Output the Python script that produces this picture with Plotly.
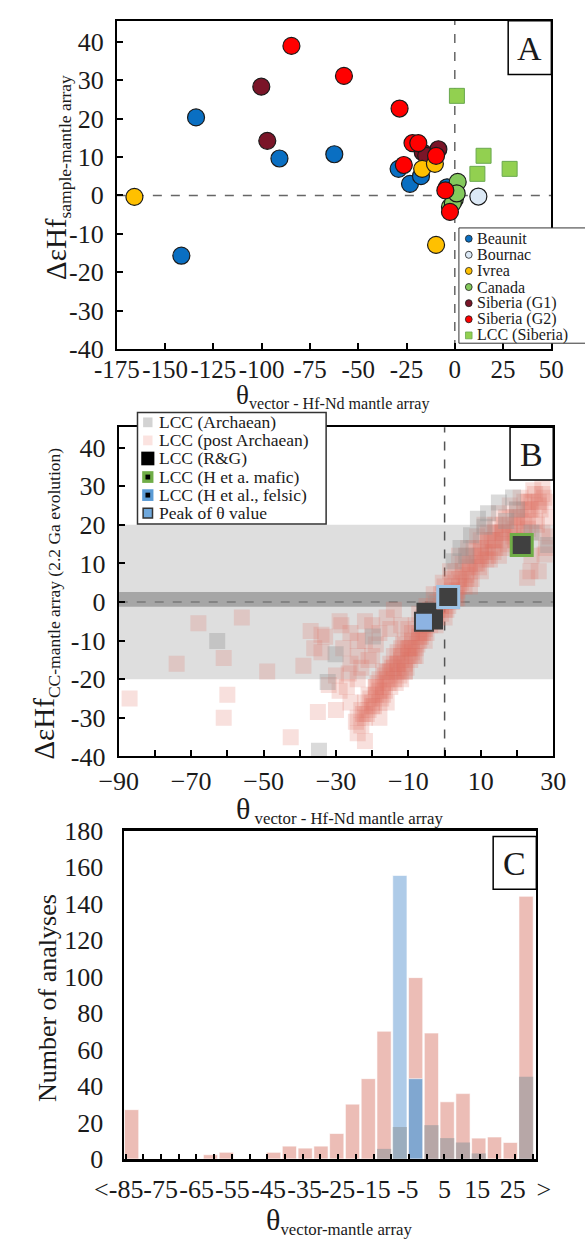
import plotly.graph_objects as go

W, H = 585, 1254
FONT = "Liberation Serif"
TXT = "#1a1a1a"


def px(x):
    return x / W


def py(y):
    return 1 - y / H


# ---------------- Panel A data ----------------
beaunit_x = [-134.0, -141.6, -90.8, -62.4, -29.1, -23.2, -17.5, -4.0]
beaunit_y = [20.3, -15.7, 9.6, 10.7, 6.9, 3.0, 5.0, 2.1]
bournac_x = [12.2]
bournac_y = [-0.3]
ivrea_x = [-165.9, -9.7, -16.9, -10.3]
ivrea_y = [-0.4, -12.9, 6.9, 8.2]
sibg1_x = [-100.2, -97.1, -16.6, -13.0, -8.5, -14.8]
sibg1_y = [28.3, 14.2, 11.2, 9.0, 12.0, 10.3]
canada_x = [1.5, 0.0, -2.5, -1.0, 1.0]
canada_y = [3.5, -1.0, -3.0, -2.0, 0.5]
sibg2_x = [-84.6, -57.4, -28.6, -21.9, -18.9, -26.4, -9.7, -4.9, -2.5]
sibg2_y = [38.9, 31.1, 22.6, 13.6, 13.6, 7.9, 10.3, 1.3, -4.3]
lccsib_x = [1.1, 14.9, 11.7, 28.4]
lccsib_y = [25.9, 10.3, 5.6, 6.9]

A_xticks = [-175, -150, -125, -100, -75, -50, -25, 0, 25, 50]
A_yticks = [-40, -30, -20, -10, 0, 10, 20, 30, 40]

# ---------------- Panel B data ----------------
post_x = [
    # main band
    -23, -24, -22, -23, -21, -22, -20, -18, -21, -19, -17, -19, -17, -15,
    -18, -16, -14, -12, -17, -15, -13, -11, -15, -13, -11, -14, -12, -10, -8,
    -12, -10, -8, -11, -9, -7, -9, -7, -5, -8, -6, -4, -6, -4, -2, -4, -2, 0,
    -2, 0, 2, -1, 1, 3, 0, 2, 4, 2, 4, 6, 3, 5, 7, 5, 7, 9, 6, 8, 10, 12,
    8, 10, 12, 14, 10, 12, 14, 16, 12, 14, 16, 18, 14, 16, 18, 20, 22,
    17, 19, 21, 23, 20, 22, 24, 22, 24, 26, 25, 27, 27,
    # band, second pass
    -24.5, -21.5, -20.5, -19.5, -16.5, -18.5, -13.5, -16.5, -12.5, -14.5,
    -10.5, -9.5, -13, -9, -11.5, -7.5, -6.5, -10, -5.5, -7, -3, -5, -1, -3,
    1, -0.5, 3.5, 1.5, 5.5, 4, 7.5, 6.5, 9.5, 9, 11.5, 11, 13.5, 15, 16.5,
    18, 19.5, 21, 23, 24.5, 26.5, 25.5, 28.5, 29,
    # band, third pass
    -22.5, -20, -18, -17.5, -15.5, -14, -12, -11, -10, -8.5, -7, -5.5, -4,
    -2.5, -1, 0.5, 2, 3, 4.5, 6, 7, 8.5, 10, 11, 12.5, 13.5, 15, 16, 17.5,
    19, 20.5, 22, 23.5, 25, 26, 27.5, -19, -16, -13, -9.5, -6, -3.5, 0, 3.5,
    6.5, 10, 13, 16.5, 20, 23,
    # diffuse left of band
    -28, -26, -24, -22, -20, -18, -16, -14, -20, -24, -27, -30, -26, -22,
    -24, -18, -16, -30, -33, -36, -29, -19, -15, -12, -23, -21,
    # right of band
    24, 26, 28, 22, 27, 29, 23.7, 27.6, 22.8,
    # isolated outliers
    -87, -74, -68, -56, -61, -60, -61, -49, -42.5, -37, -39, -34, -35, -34,
    -32, -28.5, -29, -26.5, -26, -24, -22,
]
post_y = [
    -32, -30, -30, -28, -28, -26, -26, -26, -24, -24, -24, -22, -22, -22,
    -20, -20, -20, -20, -18, -18, -18, -18, -16, -16, -16, -14, -14, -14, -14,
    -12, -12, -12, -10, -10, -10, -8, -8, -8, -6, -6, -6, -4, -4, -4, -2, -2, -2,
    0, 0, 0, 2, 2, 2, 4, 4, 4, 6, 6, 6, 8, 8, 8, 10, 10, 10, 12, 12, 12, 12,
    14, 14, 14, 14, 16, 16, 16, 16, 18, 18, 18, 18, 20, 20, 20, 20, 20,
    22, 22, 22, 22, 24, 24, 24, 26, 26, 26, 28, 28, 30,
    -31, -29, -25, -27, -23, -21, -21, -19, -19, -17,
    -17, -15, -13, -13, -11, -11, -9, -7, -7, -3, -5, -1, -3, 2,
    -1, 5, 1, 8, 4, 12, 6, 14, 9, 17, 11, 20, 13, 23, 14,
    25, 16, 27, 19, 29, 24, 20, 26, 22,
    -29, -27, -23, -25, -21, -17, -15, -18, -12, -14, -9, -10, -5,
    -6, -1, -2, 3, 1, 5, 7, 4, 10, 8, 13, 11, 16, 12, 18, 15,
    17, 21, 18, 24, 21, 25, 27, -22, -18, -16, -12, -8, -4, -4, 3,
    9, 12, 16, 19, 22, 26,
    -12, -16, -14, -10, -6, -8, -4, -2, -14, -20, -22, -28, -26, -36,
    -34, -30, -26, -19, -9, -12, -5, -11, -7, -6, -17, -15,
    12, 8, 14, 16, 18, 17, 8, 12.3, 6.3,
    -25, -16, -5.5, -4, -14.5, -24, -30, -18, -35, -7.5, -16.5, -8.5, -28.5, -13,
    -21.5, -6, -23, -18.5, -8, -10, -5,
]
arch_x = [-62.8, -30.1, -32.3, -34.7, 18.9, 15.0, 9.2, 28.6, 7.3, 4.4, 2.5,
          12.0, 11.0, 6.0, -2.4, -5.3, -19.8, 20.0, 17.0, 24.0]
arch_y = [-10.1, -13.5, -20.7, -38.5, 27.1, 25.8, 21.6, 14.8, 17.3, 14.0, 10.6,
          23.0, 19.5, 12.0, -0.4, -4.7, -8.9, 24.0, 21.0, 18.0]
rg_x = [-5.0, -3.2]
rg_y = [-2.8, -4.5]
mafic_x = [21.3]
mafic_y = [14.8]
felsic_x = [1.0]
felsic_y = [1.3]
peak_x = [-5.7]
peak_y = [-5.1]

B_yticks = [-40, -30, -20, -10, 0, 10, 20, 30, 40]
band_wide = (-20, 20)
band_narrow = (-1.2, 2.6)

# ---------------- Panel C data ----------------
hist_post = [27, 0, 0, 0, 0, 2.3, 3.6, 0, 0, 3.6, 7, 5.9, 7, 13.9, 30, 44, 70,
             0, 99.4, 69, 31.3, 35.8, 11.4, 12, 9, 144]
hist_peak = [None] * 17 + [155.4, 44] + [None] * 7
hist_arch = [0] * 16 + [5.5, 17.5, 0, 18.5, 11.4, 9, 3, 0, 0, 45]
hist_bins = list(range(len(hist_post)))
C_labels = ["<-85", "-75", "-65", "-55", "-45", "-35", "-25", "-15", "-5", "5",
            "15", "25", ">"]
C_label_pos = [-0.82, 1.84, 4.12, 6.38, 8.68, 10.96, 13.08, 15.32, 17.5, 19.83,
               21.9, 24.16, 26.12]
C_yticks = [0, 20, 40, 60, 80, 100, 120, 140, 160, 180]

fig = go.Figure()


def add_circles(name, xs, ys, color):
    fig.add_trace(go.Scatter(
        x=xs, y=ys, mode="markers", name=name, xaxis="x", yaxis="y",
        showlegend=False,
        marker=dict(symbol="circle", size=17, color=color,
                    line=dict(color="#1a1a1a", width=1.2))))


add_circles("Beaunit", beaunit_x, beaunit_y, "#0a6fc2")
add_circles("Bournac", bournac_x, bournac_y, "#dce9f6")
add_circles("Siberia (G1)", sibg1_x, sibg1_y, "#7a1528")
add_circles("Ivrea", ivrea_x, ivrea_y, "#ffc000")
add_circles("Canada", canada_x, canada_y, "#84c95c")
add_circles("Siberia (G2)", sibg2_x, sibg2_y, "#ff0000")
fig.add_trace(go.Scatter(
    x=lccsib_x, y=lccsib_y, mode="markers", name="LCC (Siberia)",
    xaxis="x", yaxis="y", showlegend=False,
    marker=dict(symbol="square", size=15, color="#92d050",
                line=dict(color="#6aa84f", width=1))))

fig.add_trace(go.Scatter(
    x=post_x, y=post_y, mode="markers", name="LCC (post Archaean)",
    xaxis="x2", yaxis="y2", showlegend=False,
    marker=dict(symbol="square", size=16, color="rgba(222,112,100,0.22)",
                line=dict(width=0))))
fig.add_trace(go.Scatter(
    x=arch_x, y=arch_y, mode="markers", name="LCC (Archaean)",
    xaxis="x2", yaxis="y2", showlegend=False,
    marker=dict(symbol="square", size=16, color="rgba(150,150,150,0.35)",
                line=dict(width=0))))
fig.add_trace(go.Scatter(
    x=rg_x, y=rg_y, mode="markers", name="LCC (R&G)",
    xaxis="x2", yaxis="y2", showlegend=False,
    marker=dict(symbol="square", size=20, color="#3d3d3d", line=dict(width=0))))
fig.add_trace(go.Scatter(
    x=mafic_x, y=mafic_y, mode="markers", name="LCC (H et a. mafic)",
    xaxis="x2", yaxis="y2", showlegend=False,
    marker=dict(symbol="square", size=21, color="#404040",
                line=dict(color="#70ad47", width=3))))
fig.add_trace(go.Scatter(
    x=felsic_x, y=felsic_y, mode="markers", name="LCC (H et al., felsic)",
    xaxis="x2", yaxis="y2", showlegend=False,
    marker=dict(symbol="square", size=21, color="#404040",
                line=dict(color="#9dc3e6", width=3))))
fig.add_trace(go.Scatter(
    x=peak_x, y=peak_y, mode="markers", name="Peak of θ value",
    xaxis="x2", yaxis="y2", showlegend=False,
    marker=dict(symbol="square", size=18, color="#8db3e2",
                line=dict(color="#3d3d3d", width=2))))

fig.add_trace(go.Bar(
    x=hist_bins, y=hist_post, name="LCC (post Archaean)", xaxis="x3", yaxis="y3",
    width=0.9, showlegend=False,
    marker=dict(color="#ecbdb6", line=dict(color="white", width=0.6))))
fig.add_trace(go.Bar(
    x=hist_bins, y=hist_peak, name="Peak of θ value", xaxis="x3", yaxis="y3",
    width=0.9, showlegend=False,
    marker=dict(color=["#aecbe8" if i == 17 else "#80a7d0" for i in hist_bins],
                line=dict(color="white", width=0.6))))
fig.add_trace(go.Bar(
    x=hist_bins, y=hist_arch, name="LCC (Archaean)", xaxis="x3", yaxis="y3",
    width=0.9, showlegend=False,
    marker=dict(color="rgba(140,150,155,0.55)", line=dict(width=0))))
fig.add_trace(go.Scatter(x=[], y=[], xaxis="x4", yaxis="y4", showlegend=False))

tickfont = dict(family=FONT, size=26, color=TXT)
tickfontA = dict(family=FONT, size=25, color=TXT)
frame = dict(showline=True, linecolor="black", linewidth=2, mirror=True,
             showgrid=False, zeroline=False)

fig.update_layout(
    width=W, height=H, margin=dict(l=0, r=0, t=0, b=0),
    paper_bgcolor="white", plot_bgcolor="rgba(0,0,0,0)", barmode="overlay",
    font=dict(family=FONT, color=TXT),
    xaxis=dict(domain=[px(100), px(563)], anchor="y", range=[-175, 50],
               tickmode="array", tickvals=A_xticks,
               ticktext=[str(v) for v in A_xticks], tickangle=0,
               ticks="inside", ticklen=6, tickwidth=1.5, tickcolor="black",
               tickfont=tickfontA, ticklabelstandoff=-3, **frame),
    yaxis=dict(domain=[py(343), py(6.7)], anchor="x", range=[-40, 45.5],
               tickmode="array", tickvals=A_yticks,
               ticktext=[str(v) for v in A_yticks],
               ticks="inside", ticklen=6, tickwidth=1.5, tickcolor="black",
               tickfont=tickfont, ticklabelstandoff=6, **frame),
    xaxis2=dict(domain=[px(102), px(565)], anchor="y2", range=[-90, 30],
                tickmode="linear", tick0=-90, dtick=20, tickangle=0,
                ticks="inside", ticklen=6, tickwidth=1.5, tickcolor="black",
                minor=dict(tick0=-90, dtick=10, ticks="inside", ticklen=6,
                           tickwidth=1.5, tickcolor="black"),
                tickfont=tickfont, ticklabelstandoff=0, **frame),
    yaxis2=dict(domain=[py(760), py(423)], anchor="x2", range=[-40, 45.3],
                tickmode="array", tickvals=B_yticks,
                ticktext=[str(v) for v in B_yticks],
                ticks="inside", ticklen=6, tickwidth=1.5, tickcolor="black",
                tickfont=tickfont, ticklabelstandoff=6, **frame),
    xaxis3=dict(domain=[px(108), px(547)], anchor="y3", range=[-0.46, 25.65],
                tickmode="linear", tick0=0.744, dtick=1.122,
                ticks="inside", ticklen=5, tickwidth=2, tickcolor="black",
                showticklabels=False, showline=True, linecolor="black",
                linewidth=3, mirror=True, showgrid=False, zeroline=False),
    yaxis3=dict(domain=[py(1172), py(836)], anchor="x3", range=[0, 180],
                tickmode="array", tickvals=C_yticks,
                ticktext=[str(v) for v in C_yticks], ticks="",
                tickfont=tickfont, ticklabelstandoff=14, **frame),
    xaxis4=dict(domain=[px(85), px(575)], anchor="y4", range=[-1.832, 27.317],
                tickmode="array", tickvals=C_label_pos, ticktext=C_labels,
                tickangle=0,
                ticks="", showline=False, showgrid=False, zeroline=False,
                tickfont=tickfont, ticklabelstandoff=12),
    yaxis4=dict(domain=[py(1172), py(836)], anchor="x4", range=[0, 1],
                visible=False),
)

shapes = []
shapes.append(dict(type="line", xref="x domain", yref="y", x0=0, x1=1, y0=0, y1=0,
                   line=dict(color="#666666", width=1.5, dash="dash"), layer="below"))
shapes.append(dict(type="line", xref="x", yref="y domain", x0=0, x1=0, y0=0, y1=1,
                   line=dict(color="#666666", width=1.5, dash="dash"), layer="below"))
shapes.append(dict(type="rect", xref="x2 domain", yref="y2", x0=0, x1=1,
                   y0=band_wide[0], y1=band_wide[1], fillcolor="#dedede",
                   line=dict(width=0), layer="below"))
shapes.append(dict(type="rect", xref="x2 domain", yref="y2", x0=0, x1=1,
                   y0=band_narrow[0], y1=band_narrow[1], fillcolor="#a6a6a6",
                   line=dict(width=0), layer="below"))
shapes.append(dict(type="line", xref="x2 domain", yref="y2", x0=0, x1=1, y0=0, y1=0,
                   line=dict(color="#7a7a7a", width=1.5, dash="dash"), layer="below"))
shapes.append(dict(type="line", xref="x2", yref="y2 domain", x0=0, x1=0, y0=0, y1=1,
                   line=dict(color="#555555", width=1.5, dash="dash"), layer="below"))


def prect(x0, y0, x1, y1, fill, lc=None, lw=0):
    shapes.append(dict(type="rect", xref="paper", yref="paper",
                       x0=px(x0), x1=px(x1), y0=py(y1), y1=py(y0),
                       fillcolor=fill, layer="above",
                       line=dict(color=lc or fill, width=lw)))


def pcirc(cx, cy, r, fill):
    shapes.append(dict(type="circle", xref="paper", yref="paper",
                       x0=px(cx - r), x1=px(cx + r), y0=py(cy + r), y1=py(cy - r),
                       fillcolor=fill, layer="above",
                       line=dict(color="#1a1a1a", width=0.8)))


annotations = []


def ptext(x, y, text, size, xanchor="left", angle=0):
    annotations.append(dict(xref="paper", yref="paper", x=px(x), y=py(y), text=text,
                            showarrow=False, xanchor=xanchor, yanchor="middle",
                            textangle=angle,
                            font=dict(family=FONT, size=size, color=TXT)))


for (x0, y0, x1, y1, letter) in [(517, 7, 563, 62, "A"), (519, 423, 565, 477, "B"),
                                 (501, 842, 547, 896, "C")]:
    prect(x0, y0, x1, y1, "white", "black", 1.5)
    ptext((x0 + x1) / 2, (y0 + y1) / 2 + 1, letter, 34, xanchor="center")

# Legend A
prect(464.5, 219, 620, 337, "white", "#333333", 1)
legA = [("Beaunit", "#0a6fc2"), ("Bournac", "#dce9f6"), ("Ivrea", "#ffc000"),
        ("Canada", "#84c95c"), ("Siberia (G1)", "#7a1528"), ("Siberia (G2)", "#ff0000")]
rowsA = [230, 246.5, 263, 279.5, 296, 312.5, 329]
for (name, col), ry in zip(legA, rowsA):
    pcirc(475, ry, 3.6, col)
    ptext(482, ry, name, 16)
prect(471.5, rowsA[6] - 3.5, 478.5, rowsA[6] + 3.5, "#92d050", "#6aa84f", 0.8)
ptext(482, rowsA[6], "LCC (Siberia)", 16)

# Legend B
prect(122, 408, 323, 522, "white", "#333333", 1.5)
rowsB = [418, 436.5, 455, 474, 492.5, 511]
prect(128, rowsB[0] - 5, 138, rowsB[0] + 5, "#d3d3d3")
ptext(143, rowsB[0], "LCC (Archaean)", 17.5)
prect(128, rowsB[1] - 5, 138, rowsB[1] + 5, "#fbe3e0")
ptext(143, rowsB[1], "LCC (post Archaean)", 17.5)
prect(126, rowsB[2] - 7, 140, rowsB[2] + 7, "#000000")
ptext(143, rowsB[2], "LCC (R&G)", 17.5)
prect(127, rowsB[3] - 6, 139, rowsB[3] + 6, "#70ad47")
prect(130.5, rowsB[3] - 2.5, 135.5, rowsB[3] + 2.5, "#000000")
ptext(143, rowsB[3], "LCC (H et a. mafic)", 17.5)
prect(127, rowsB[4] - 6, 139, rowsB[4] + 6, "#5b9bd5")
prect(130.5, rowsB[4] - 2.5, 135.5, rowsB[4] + 2.5, "#000000")
ptext(143, rowsB[4], "LCC (H et al., felsic)", 17.5)
prect(128, rowsB[5] - 5, 138, rowsB[5] + 5, "#6fa8dc", "#333333", 1.5)
ptext(143, rowsB[5], "Peak of θ value", 17.5)

# Axis titles
ptext(36, 167, "<span style='font-size:29px'>ΔεHf</span><sub>sample-mantle array</sub>",
      25, xanchor="center", angle=-90)
ptext(330, 392, "<span style='font-size:27px'>θ</span><sub>vector - Hf-Nd mantle array</sub>",
      23, xanchor="center")
ptext(24, 604, "<span style='font-size:29px'>ΔεHf</span><sub>CC-mantle array (2.2 Ga evolution)</sub>",
      25, xanchor="center", angle=-90)
ptext(337, 815, "<span style='font-size:30px'>θ</span><sub> vector - Hf-Nd mantle array</sub>",
      24, xanchor="center")
ptext(26, 1007, "Number of analyses", 26, xanchor="center", angle=-90)
ptext(337, 1236, "<span style='font-size:30px'>θ</span><sub>vector-mantle array</sub>",
      24, xanchor="center")

fig.update_layout(shapes=shapes, annotations=annotations)
fig.write_html("out.html", config={"displayModeBar": False},
               post_script="document.body.style.margin='0px';"
                           "document.body.style.overflow='hidden';")
